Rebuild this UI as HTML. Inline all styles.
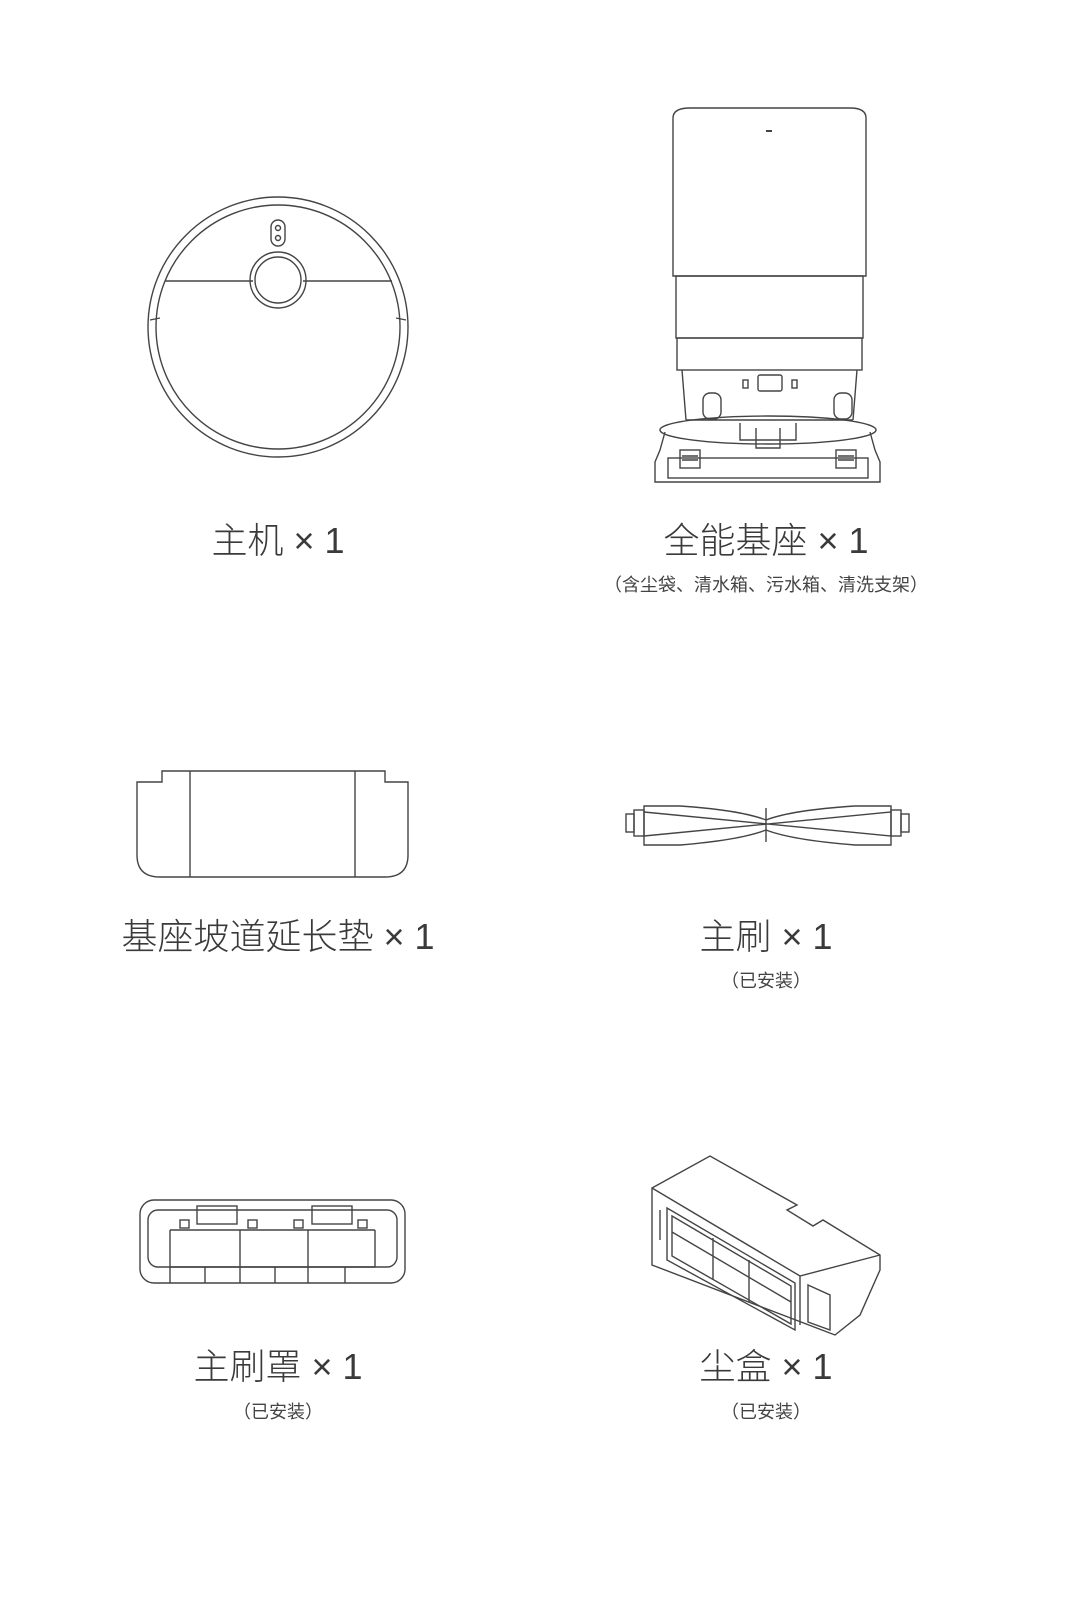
<!DOCTYPE html>
<html><head><meta charset="utf-8"><style>
html,body{margin:0;padding:0;background:#fff;}
body{width:1080px;height:1605px;position:relative;overflow:hidden;font-family:"Liberation Sans","Noto Sans CJK SC",sans-serif;color:#3a3a3a;}
.t{position:absolute;text-align:center;width:500px;font-size:36px;line-height:40px;font-weight:300;}
.s{position:absolute;text-align:center;width:500px;font-size:18px;line-height:22px;color:#444;}
svg{position:absolute;left:0;top:0;}
</style></head><body>
<svg width="1080" height="1605" fill="none" stroke="#444" stroke-width="1.4">
<circle cx="278" cy="327" r="130"/>
<circle cx="278" cy="327" r="122"/>
<path d="M150 320 L160 318 M396 318 L406 320"/>
<path d="M165 281 L253 281 M303 281 L392 281"/>
<circle cx="278" cy="280" r="28"/>
<circle cx="278" cy="280" r="23"/>
<rect x="271" y="220" width="14" height="26" rx="7"/>
<circle cx="278" cy="228" r="2.5"/><circle cx="278" cy="238" r="2.5"/>
<path d="M673 276 L673 118 Q673 108 690 108 L850 108 Q866 108 866 118 L866 276 Z"/>
<path d="M766 131 L772 131" stroke-width="2"/>
<rect x="676" y="276" width="187" height="62"/>
<rect x="677" y="338" width="185" height="32"/>
<path d="M682 370 L686 420 M857 370 L853 420 M686 420 L853 420"/>
<rect x="758" y="375" width="24" height="16" rx="2"/>
<rect x="743" y="380" width="5" height="8"/><rect x="792" y="380" width="5" height="8"/>
<rect x="703" y="393" width="18" height="26" rx="7"/><rect x="834" y="393" width="18" height="26" rx="7"/>
<ellipse cx="768" cy="430" rx="108" ry="14"/>
<path d="M740 423 L740 440 L796 440 L796 423 M756 428 L756 448 L780 448 L780 428"/>
<path d="M665 432 L660 450 L655 462 L655 482 L880 482 L880 462 L875 450 L870 432"/>
<rect x="668" y="458" width="200" height="20"/>
<rect x="680" y="450" width="20" height="18"/><rect x="836" y="450" width="20" height="18"/>
<path d="M682 456 L698 456 M682 460 L698 460 M838 456 L854 456 M838 460 L854 460"/>
<path d="M137 782 L162 782 L162 771 L385 771 L385 782 L408 782 L408 855 Q408 877 385 877 L160 877 Q137 877 137 855 Z"/>
<path d="M190 771 L190 877 M355 771 L355 877"/>
<rect x="626" y="814" width="8" height="18"/><rect x="634" y="810" width="10" height="26"/>
<rect x="901" y="814" width="8" height="18"/><rect x="891" y="810" width="10" height="26"/>
<path d="M644 806 L680 806 Q740 810 766 820 Q792 810 855 806 L891 806 L891 845 L855 845 Q792 840 766 830 Q740 840 680 845 L644 845 Z"/>
<path d="M644 812 L891 836 M644 836 L891 812 M766 808 L766 842"/>
<rect x="140" y="1200" width="265" height="83" rx="14"/>
<rect x="148" y="1210" width="249" height="57" rx="10"/>
<path d="M170 1230 L375 1230 M170 1230 L170 1267 M375 1230 L375 1267 M170 1267 L375 1267 M240 1230 L240 1283 M308 1230 L308 1283 M170 1283 L170 1267 M205 1267 L205 1283 M275 1267 L275 1283 M345 1267 L345 1283"/>
<rect x="197" y="1206" width="40" height="18"/><rect x="312" y="1206" width="40" height="18"/>
<rect x="180" y="1220" width="9" height="8"/><rect x="248" y="1220" width="9" height="8"/><rect x="294" y="1220" width="9" height="8"/><rect x="358" y="1220" width="9" height="8"/>
<path d="M652 1188 L710 1156 L797 1205 L787 1210 L813 1226 L823 1220 L880 1255 L880 1270 L860 1315 L835 1335 L652 1265 Z"/>
<path d="M652 1188 L800 1276 L880 1255 M800 1276 L800 1325"/>
<path d="M667 1208 L795 1283 L795 1330 L667 1260 Z M672 1216 L791 1286 L791 1324 L672 1256 Z M672 1232 L791 1302 M713 1238 L713 1280 M749 1260 L749 1302"/>
<path d="M808 1285 L830 1295 L830 1330 L808 1322 Z M660 1210 L660 1240"/>
</svg>
<div class="t" style="left:28px;top:521px;">主机 × 1</div>
<div class="t" style="left:516px;top:521px;">全能基座 × 1</div>
<div class="s" style="left:516px;top:574px;">（含尘袋、清水箱、污水箱、清洗支架）</div>
<div class="t" style="left:28px;top:917px;">基座坡道延长垫 × 1</div>
<div class="t" style="left:516px;top:917px;">主刷 × 1</div>
<div class="s" style="left:516px;top:970px;">（已安装）</div>
<div class="t" style="left:28px;top:1347px;">主刷罩 × 1</div>
<div class="s" style="left:28px;top:1401px;">（已安装）</div>
<div class="t" style="left:516px;top:1347px;">尘盒 × 1</div>
<div class="s" style="left:516px;top:1401px;">（已安装）</div>
</body></html>
